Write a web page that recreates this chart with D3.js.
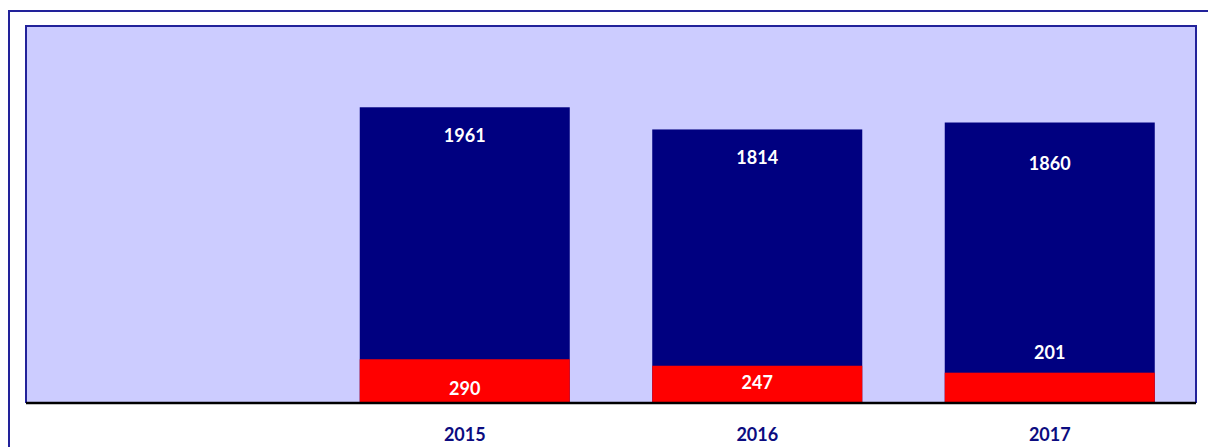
<!DOCTYPE html>
<html><head><meta charset="utf-8">
<script src="https://cdn.jsdelivr.net/npm/d3@7/dist/d3.min.js"></script>
<style>body{margin:0;background:#fff}svg{display:block}</style>
</head><body><svg id="c" width="1208" height="447"></svg>
<script>
const categories = ["", "2015", "2016", "2017"];
const totalValues = [null, 1961, 1814, 1860];
const redValues = [null, 290, 247, 201];
const yMax = 2500;

const svg = d3.select("#c");
const m = {left: 26, top: 26, right: 1196, bottom: 403};
const font = "Lato, 'Open Sans', sans-serif";

// outer frame
svg.append("path").attr("d", "M9,447 V11 H1208").attr("fill","none").attr("stroke","#22229a").attr("stroke-width",2);

const x = d3.scaleBand().domain(categories).range([m.left, m.right]).paddingInner(0.282).paddingOuter(0.141);
const y = d3.scaleLinear().domain([0, yMax]).range([m.bottom, m.top]);

svg.append("rect").attr("x", m.left).attr("y", m.top).attr("width", m.right-m.left).attr("height", m.bottom-m.top).attr("fill","#ccccff");

const idx = d3.range(categories.length).filter(i => totalValues[i] != null);

svg.selectAll("rect.tot").data(idx).join("rect").attr("class","tot")
  .attr("x", i => x(categories[i])).attr("width", x.bandwidth())
  .attr("y", i => y(totalValues[i])).attr("height", i => y(0)-y(totalValues[i]))
  .attr("fill","#000080");
svg.selectAll("rect.red").data(idx).join("rect").attr("class","red")
  .attr("x", i => x(categories[i])).attr("width", x.bandwidth())
  .attr("y", i => y(redValues[i])).attr("height", i => y(0)-y(redValues[i]))
  .attr("fill","#ff0000");

// plot border
svg.append("path").attr("d", `M${m.left},${m.bottom} V${m.top} H${m.right} V${m.bottom}`).attr("fill","none").attr("stroke","#22229a").attr("stroke-width",2);
// axis
const xAxis = d3.axisBottom(x).tickSize(0).tickPadding(25);
const ax = svg.append("g").attr("transform",`translate(0,${m.bottom})`).call(xAxis);
ax.select(".domain").attr("stroke","#000").attr("stroke-width",2.5).attr("d",`M${m.left},0H${m.right}`);
ax.selectAll("text").attr("font-family",font).attr("font-weight","bold").attr("font-size",18).attr("fill","#0c0c80");

// labels
const totNudge = [0, 28, 28, 41];
const redNudge = [0, 29, 17, -20];
svg.selectAll("text.tl").data(idx).join("text").attr("class","tl")
  .attr("x", i => x(categories[i]) + x.bandwidth()/2)
  .attr("y", i => y(totalValues[i]) + totNudge[i])
  .attr("dy","0.35em").attr("text-anchor","middle")
  .attr("font-family",font).attr("font-weight","bold").attr("font-size",18).attr("fill","#fff")
  .text(i => totalValues[i]);
svg.selectAll("text.rl").data(idx).join("text").attr("class","rl")
  .attr("x", i => x(categories[i]) + x.bandwidth()/2)
  .attr("y", i => y(redValues[i]) + redNudge[i])
  .attr("dy","0.35em").attr("text-anchor","middle")
  .attr("font-family",font).attr("font-weight","bold").attr("font-size",18).attr("fill","#fff")
  .text(i => redValues[i]);
</script></body></html>
